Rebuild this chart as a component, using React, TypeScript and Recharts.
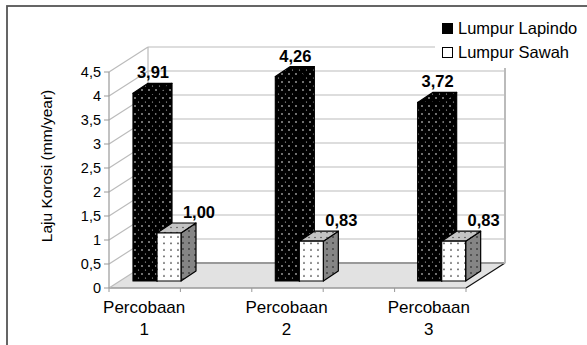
import { BarChart, Bar, XAxis, YAxis, CartesianGrid, Legend, LabelList } from 'recharts';

const categories = ['Percobaan 1', 'Percobaan 2', 'Percobaan 3'];
const lapindo = [3.91, 4.26, 3.72];
const sawah = [1.0, 0.83, 0.83];
const yTicks = [0, 0.5, 1, 1.5, 2, 2.5, 3, 3.5, 4, 4.5];

const data = categories.map((cat, i) => ({ cat, lapindo: lapindo[i], sawah: sawah[i] }));

const W = 587;
const H = 345;
const Y_AXIS_W = 60;
const X_AXIS_H = 30;
// plot area: x 86..513, y 65..281 (margins exclude the axis sizes)
const M = { top: 65, right: 74, bottom: 64 - X_AXIS_H, left: 86 - Y_AXIS_W };
const PLOT_TOP = 65;
const PLOT_BOTTOM = 281;

// fake 3d frame (Excel style)
const FX = 109; // front axis x
const FX1 = 466; // front right corner of floor
const BX0 = 148; // back wall left
const BX1 = 505; // back wall right
const FRONT_DY = 7;
const BACK_DY = -18;
const DX = 15; // bar depth
const DY = 10;

const font = '"Liberation Sans", Arial, sans-serif';
const fmt = (v: number) => v.toFixed(2).replace('.', ',');

const gridLine = (p: any) => {
  const y = p.y1;
  const isFloor = y >= PLOT_BOTTOM - 0.5;
  const isTop = y <= PLOT_TOP + 0.5;
  return (
    <g key={p.key}>
      {isFloor && (
        <g>
          <polygon
            points={`${FX},${y + FRONT_DY} ${FX1},${y + FRONT_DY} ${BX1},${y + BACK_DY} ${BX0},${y + BACK_DY}`}
            fill="#e2e2e2"
            stroke="none"
          />
          <line x1={FX} y1={y + FRONT_DY} x2={FX1} y2={y + FRONT_DY} stroke="#999" strokeWidth={1.5} />
          <line x1={FX1} y1={y + FRONT_DY} x2={BX1} y2={y + BACK_DY} stroke="#111" strokeWidth={1.2} />
          {[0, 1, 2, 3, 4, 5].map((k) => {
            const tx = FX + (k * (FX1 - FX)) / 5;
            return <line key={k} x1={tx} y1={y + FRONT_DY} x2={tx} y2={y + FRONT_DY + 4} stroke="#999" />;
          })}
        </g>
      )}
      {isTop && (
        <g>
          <line x1={BX0} y1={y + BACK_DY} x2={BX0} y2={PLOT_BOTTOM + BACK_DY} stroke="#bbb" strokeWidth={1.2} />
          <line x1={BX1} y1={y + BACK_DY} x2={BX1} y2={PLOT_BOTTOM + BACK_DY} stroke="#bbb" strokeWidth={2} />
        </g>
      )}
      <line x1={BX0} y1={y + BACK_DY} x2={BX1} y2={y + BACK_DY} stroke={isFloor ? '#999' : '#bbb'} strokeWidth={isFloor ? 2 : 1.2} />
      <line x1={FX} y1={y + FRONT_DY} x2={BX0} y2={y + BACK_DY} stroke="#bbb" strokeWidth={1.2} />
    </g>
  );
};

const FrontTick = (p: any) => {
  const { y, payload } = p;
  const yy = y + FRONT_DY;
  return (
    <g>
      {payload.value === 4.5 && (
        <line x1={FX} y1={yy} x2={FX} y2={PLOT_BOTTOM + FRONT_DY} stroke="#999" strokeWidth={1.2} />
      )}
      <line x1={FX - 5} y1={yy} x2={FX} y2={yy} stroke="#999" />
      <text x={FX - 8} y={yy + 5} textAnchor="end" fontSize={14.5} fontFamily={font} fill="#000">
        {String(payload.value).replace('.', ',')}
      </text>
    </g>
  );
};

const CatTick = (p: any) => {
  const { x, payload } = p;
  const parts = String(payload.value).split(' ');
  return (
    <g>
      <text x={x - 13} y={313} textAnchor="middle" fontSize={17} fontFamily={font} fill="#000">
        {parts[0]}
      </text>
      <text x={x - 13} y={335} textAnchor="middle" fontSize={17} fontFamily={font} fill="#000">
        {parts[1]}
      </text>
    </g>
  );
};

const box = (front: string, top: string, side: string) => (p: any) => {
  const { x, y, width: w, height: h } = p;
  if (!h) return <g />;
  return (
    <g stroke="#000" strokeWidth={1.2} strokeLinejoin="round">
      <polygon points={`${x + w},${y} ${x + w + DX},${y - DY} ${x + w + DX},${y + h - DY} ${x + w},${y + h}`} fill={side} />
      <polygon points={`${x},${y} ${x + DX},${y - DY} ${x + w + DX},${y - DY} ${x + w},${y}`} fill={top} />
      <rect x={x} y={y} width={w} height={h} fill={front} />
    </g>
  );
};

const valueLabel = (dx: number) => (p: any) => {
  const { x, y, width, value } = p;
  return (
    <text x={x + width / 2 + dx} y={y - 15} textAnchor="middle" fontSize={16.5} fontWeight="bold" fontFamily={font} fill="#000">
      {fmt(value)}
    </text>
  );
};

const legendFill: Record<string, string> = { lapindo: '#000', sawah: '#fff' };

const LegendBox = (p: any) => (
  <div style={{ fontFamily: font, fontSize: 16.5, color: '#000' }}>
    {(p.payload || []).map((e: any) => (
      <div key={e.dataKey} style={{ display: 'flex', alignItems: 'center', height: 24 }}>
        <span
          style={{
            display: 'inline-block',
            width: 9,
            height: 9,
            border: '1px solid #000',
            background: legendFill[e.dataKey],
            marginLeft: 7,
            marginRight: 5,
          }}
        />
        <span>{e.value}</span>
      </div>
    ))}
  </div>
);

export default function App() {
  return (
    <div style={{ position: 'absolute', left: 0, top: 0, width: W, height: H, background: '#fff' }}>
      <BarChart width={W} height={H} data={data} margin={M} barSize={24} barGap={0} style={{ fontFamily: font }}>
        <defs>
          <pattern id="dotBlack" width="7" height="8" patternUnits="userSpaceOnUse">
            <rect width="7" height="8" fill="#000" />
            <circle cx="2" cy="2" r="0.8" fill="#fff" />
            <circle cx="5.5" cy="6" r="0.6" fill="#ccc" />
          </pattern>
          <pattern id="dotWhite" width="7" height="6.5" patternUnits="userSpaceOnUse">
            <rect width="7" height="6.5" fill="#fff" />
            <circle cx="3" cy="3" r="0.8" fill="#333" />
          </pattern>
          <pattern id="dotGray" width="6" height="6" patternUnits="userSpaceOnUse">
            <rect width="6" height="6" fill="#858585" />
            <circle cx="3" cy="3" r="0.8" fill="#111" />
          </pattern>
          <pattern id="dotLight" width="6" height="5" patternUnits="userSpaceOnUse">
            <rect width="6" height="5" fill="#c4c4c4" />
            <circle cx="3" cy="2.5" r="0.7" fill="#333" />
          </pattern>
        </defs>
        <rect x={7} y={6} width={700} height={500} fill="none" stroke="#555" strokeWidth={1.8} />
        <CartesianGrid vertical={false} horizontal={gridLine} />
        <XAxis dataKey="cat" axisLine={false} tickLine={false} interval={0} height={X_AXIS_H} tick={<CatTick />} />
        <YAxis
          domain={[0, 4.5]}
          ticks={yTicks}
          interval={0}
          axisLine={false}
          tickLine={false}
          tick={<FrontTick />}
          width={Y_AXIS_W}
          label={{
            content: () => (
              <text
                x={0}
                y={0}
                transform="translate(52,166) rotate(-90)"
                textAnchor="middle"
                fontSize={15.5}
                fontFamily={font}
                fill="#000"
              >
                Laju Korosi (mm/year)
              </text>
            ),
          }}
        />
        <Legend
          layout="vertical"
          align="center"
          verticalAlign="middle"
          content={<LegendBox />}
          wrapperStyle={{ left: 435, top: 16, width: 152, height: 52, background: '#fff' }}
        />
        <Bar dataKey="lapindo" name="Lumpur Lapindo" shape={box('url(#dotBlack)', 'url(#dotBlack)', 'url(#dotBlack)')} isAnimationActive={false}>
          <LabelList dataKey="lapindo" content={valueLabel(8)} />
        </Bar>
        <Bar dataKey="sawah" name="Lumpur Sawah" shape={box('url(#dotWhite)', 'url(#dotLight)', 'url(#dotGray)')} isAnimationActive={false}>
          <LabelList dataKey="sawah" content={valueLabel(30)} />
        </Bar>
      </BarChart>
    </div>
  );
}
